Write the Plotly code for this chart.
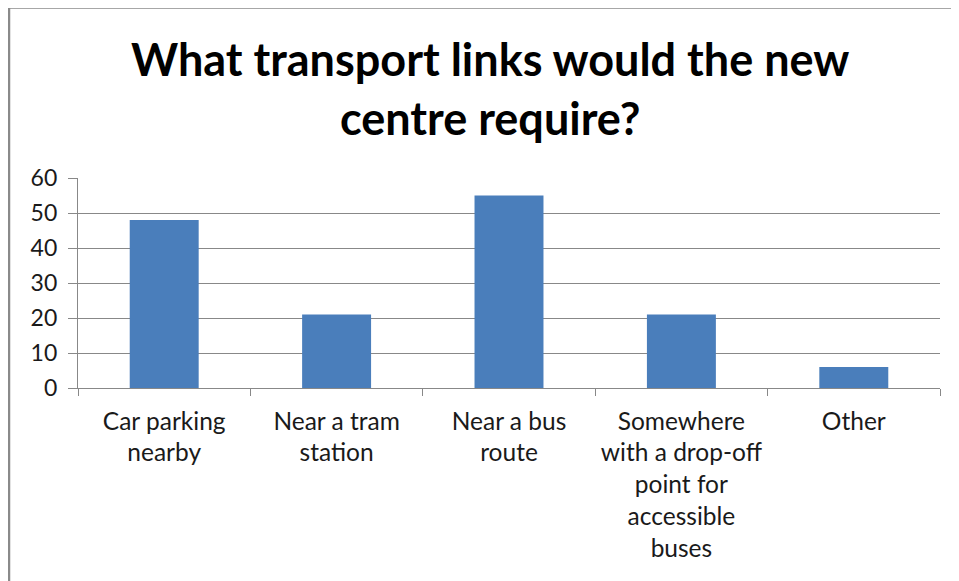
import plotly.graph_objects as go

categories = ["Car parking<br>nearby", "Near a tram<br>station", "Near a bus<br>route",
              "Somewhere<br>with a drop-off<br>point for<br>accessible<br>buses", "Other"]
values = [48, 21, 55, 21, 6]
y_ticks = [0, 10, 20, 30, 40, 50, 60]
title_text = "What transport links would the new<br>centre require?"

# page body offsets the figure by 8px; positions below are in screen pixels
OFF = 8
W, H = 959, 581
L, R, T, B = 78 - OFF, 959 - (940 - OFF), 178 - OFF, 581 - (388 - OFF)
pw, ph = W - L - R, H - T - B

def px2x(p):
    return (p - OFF - L) / pw

def py2y(p):
    return (H - B - (p - OFF)) / ph

fig = go.Figure(go.Bar(x=categories, y=values, marker=dict(color="#4A7EBB", line=dict(width=0)),
                       width=0.4))

fig.update_layout(
    width=W, height=H,
    margin=dict(l=L, r=R, t=T, b=B),
    paper_bgcolor="white", plot_bgcolor="white",
    font=dict(family="Lato, Carlito, sans-serif", color="#1a1a1a"),
    showlegend=False,
    bargap=0.6,
)
fig.update_xaxes(
    showline=True, linecolor="#888888", linewidth=1.2,
    ticks="outside", tickson="boundaries", ticklen=7, tickcolor="#888888",
    tickfont=dict(size=24.5, color="#1a1a1a"), showgrid=False, ticklabelstandoff=11,
)
fig.update_yaxes(
    range=[0, 60], tickvals=y_ticks, showline=True, linecolor="#888888", linewidth=1.2,
    ticks="outside", ticklen=9, tickcolor="#888888",
    gridcolor="#888888", gridwidth=1.2, zeroline=False,
    tickfont=dict(size=23, color="#1a1a1a"), ticklabelstandoff=6,
)
fig.add_annotation(
    text="<b>" + title_text + "</b>", x=px2x(490), y=py2y(89), xref="paper", yref="paper",
    showarrow=False, font=dict(size=45, color="black", family="Lato, Carlito, sans-serif"),
    xanchor="center", yanchor="middle", align="center",
)
# chart border (left and top visible)
fig.add_shape(type="line", xref="paper", yref="paper",
              x0=px2x(9), x1=px2x(9), y0=py2y(7.5), y1=py2y(620),
              line=dict(color="#8a8a8a", width=2.5))
fig.add_shape(type="line", xref="paper", yref="paper",
              x0=px2x(9), x1=px2x(1000), y0=py2y(7.5), y1=py2y(7.5),
              line=dict(color="#8a8a8a", width=2.5))

fig.write_html("out.html")
